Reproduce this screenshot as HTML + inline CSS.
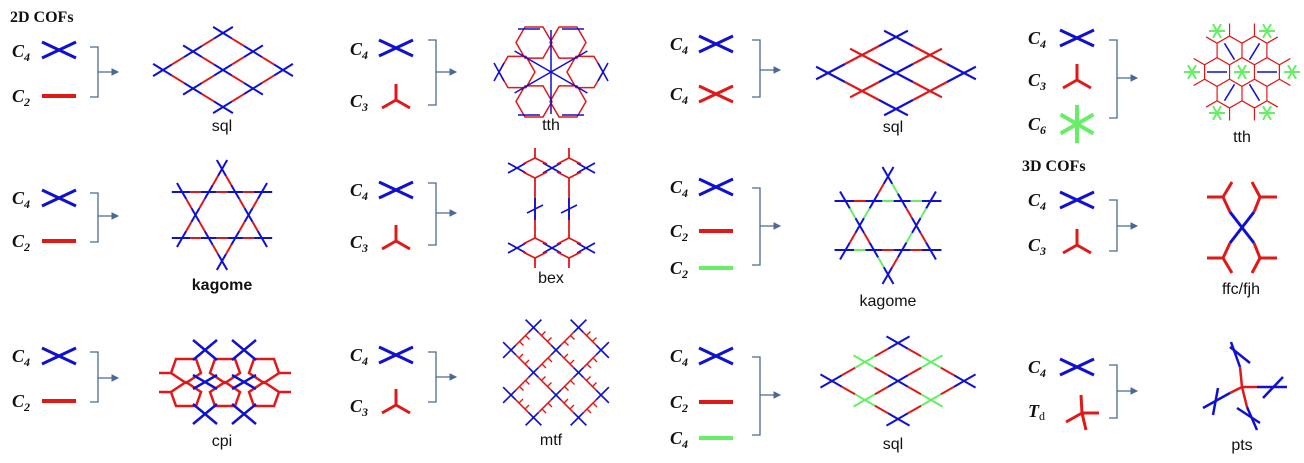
<!DOCTYPE html>
<html><head><meta charset="utf-8"><style>
html,body{margin:0;padding:0;background:#fff;}
svg{display:block;}
.lb{font-family:"Liberation Serif",serif;font-style:italic;font-weight:bold;font-size:18px;fill:#111;}
.sb{font-size:12px;}
.nm{font-family:"Liberation Sans",sans-serif;font-size:16px;fill:#111;text-anchor:middle;}
.hd{font-family:"Liberation Serif",serif;font-weight:bold;font-size:16px;fill:#111;}
</style></head><body>
<svg id="s" width="1304" height="463" viewBox="0 0 1304 463" xmlns="http://www.w3.org/2000/svg">
<rect width="1304" height="463" fill="#fff"/>
<text class="hd" x="10" y="22">2D COFs</text>
<text class="hd" x="1022" y="171">3D COFs</text>

<text class="lb" x="12" y="57">C<tspan class="sb" dy="4">4</tspan></text>
<text class="lb" x="12" y="102">C<tspan class="sb" dy="4">2</tspan></text>
<text class="lb" x="12" y="204">C<tspan class="sb" dy="4">4</tspan></text>
<text class="lb" x="12" y="247">C<tspan class="sb" dy="4">2</tspan></text>
<text class="lb" x="12" y="362">C<tspan class="sb" dy="4">4</tspan></text>
<text class="lb" x="12" y="407">C<tspan class="sb" dy="4">2</tspan></text>

<text class="lb" x="350" y="55">C<tspan class="sb" dy="4">4</tspan></text>
<text class="lb" x="350" y="107">C<tspan class="sb" dy="4">3</tspan></text>
<text class="lb" x="350" y="196">C<tspan class="sb" dy="4">4</tspan></text>
<text class="lb" x="350" y="248">C<tspan class="sb" dy="4">3</tspan></text>
<text class="lb" x="350" y="361">C<tspan class="sb" dy="4">4</tspan></text>
<text class="lb" x="350" y="412">C<tspan class="sb" dy="4">3</tspan></text>

<text class="lb" x="670" y="50">C<tspan class="sb" dy="4">4</tspan></text>
<text class="lb" x="670" y="100">C<tspan class="sb" dy="4">4</tspan></text>
<text class="lb" x="670" y="193">C<tspan class="sb" dy="4">4</tspan></text>
<text class="lb" x="670" y="237">C<tspan class="sb" dy="4">2</tspan></text>
<text class="lb" x="670" y="274">C<tspan class="sb" dy="4">2</tspan></text>
<text class="lb" x="670" y="362">C<tspan class="sb" dy="4">4</tspan></text>
<text class="lb" x="670" y="408">C<tspan class="sb" dy="4">2</tspan></text>
<text class="lb" x="670" y="444">C<tspan class="sb" dy="4">4</tspan></text>

<text class="lb" x="1028" y="44">C<tspan class="sb" dy="4">4</tspan></text>
<text class="lb" x="1028" y="86">C<tspan class="sb" dy="4">3</tspan></text>
<text class="lb" x="1028" y="130">C<tspan class="sb" dy="4">6</tspan></text>
<text class="lb" x="1028" y="206">C<tspan class="sb" dy="4">4</tspan></text>
<text class="lb" x="1028" y="251">C<tspan class="sb" dy="4">3</tspan></text>
<text class="lb" x="1028" y="373">C<tspan class="sb" dy="4">4</tspan></text>
<text class="lb" x="1028" y="417">T<tspan class="sb" dy="3" font-style="normal" font-weight="normal">d</tspan></text>

<text class="nm" x="222" y="131">sql</text>
<text class="nm" x="551" y="130">tth</text>
<text class="nm" x="893" y="132">sql</text>
<text class="nm" x="1242" y="142">tth</text>
<text class="nm" x="222" y="290" font-weight="bold">kagome</text>
<text class="nm" x="551" y="283">bex</text>
<text class="nm" x="888" y="306">kagome</text>
<text class="nm" x="1241" y="294">ffc/fjh</text>
<text class="nm" x="222" y="446">cpi</text>
<text class="nm" x="551" y="445">mtf</text>
<text class="nm" x="893" y="449">sql</text>
<text class="nm" x="1242" y="450">pts</text>
<g id="g"></g>
</svg>
<script>
var B="#1010d0",R="#e01818",G="#66ee66",BR="#4a6a95";
var g=document.getElementById("g"),NS="http://www.w3.org/2000/svg";
function L(x1,y1,x2,y2,c,w){var e=document.createElementNS(NS,"line");e.setAttribute("x1",x1);e.setAttribute("y1",y1);e.setAttribute("x2",x2);e.setAttribute("y2",y2);e.setAttribute("stroke",c);e.setAttribute("stroke-width",w||2);g.appendChild(e);}
function P(pts,c,w,close){var e=document.createElementNS(NS,close?"polygon":"polyline");e.setAttribute("points",pts.map(function(p){return p[0]+","+p[1]}).join(" "));e.setAttribute("fill","none");e.setAttribute("stroke",c);e.setAttribute("stroke-width",w||2);g.appendChild(e);}
function seg(p,q,t0,t1,c,w){L(p[0]+(q[0]-p[0])*t0,p[1]+(q[1]-p[1])*t0,p[0]+(q[0]-p[0])*t1,p[1]+(q[1]-p[1])*t1,c,w);}
function bond(p,q,cp,cq,mid,w,f){f=f||0.3;if(mid){seg(p,q,0,f,cp,w);seg(p,q,f,1-f,mid,w);seg(p,q,1-f,1,cq,w);}else{seg(p,q,0,0.5,cp,w);seg(p,q,0.5,1,cq,w);}}
function X(cx,cy,c){L(cx-17,cy-8,cx+17,cy+8,c,3);L(cx-17,cy+8,cx+17,cy-8,c,3);}
function bar(cx,cy,c){L(cx-17,cy,cx+17,cy,c,4);}
function Y(cx,cy){L(cx,cy,cx,cy-16,R,3);L(cx,cy,cx-14,cy+8,R,3);L(cx,cy,cx+14,cy+8,R,3);}
function br(x,y1,y2,ay){var e=document.createElementNS(NS,"path");e.setAttribute("d","M"+x+" "+y1+"H"+(x+8)+"V"+y2+"H"+x);e.setAttribute("fill","none");e.setAttribute("stroke",BR);e.setAttribute("stroke-width",1.3);g.appendChild(e);L(x+8,ay,x+26,ay,BR,1.3);P([[x+22,ay-3],[x+28,ay],[x+22,ay+3]],BR,1,true);g.lastChild.setAttribute("fill",BR);}
X(59,50,B);bar(59,96,R);br(90,47,97,72);
X(59,198,B);bar(59,241,R);br(90,193,242,216);
X(59,356,B);bar(59,401,R);br(90,352,402,378);
X(396,48,B);Y(396,100);br(428,40,105,72);
X(396,190,B);Y(396,241);br(428,183,245,213);
X(396,355,B);Y(396,405);br(428,352,402,377);
X(716,44,B);X(716,94,R);br(752,40,97,70);
X(716,187,B);bar(716,231,R);bar(716,268,G);br(752,188,265,226);
X(716,356,B);bar(716,402,R);bar(716,438,G);br(752,357,435,395);
X(1077,38,B);Y(1077,80);
(function(){for(var k=0;k<3;k++){var a=Math.PI/2+k*Math.PI/3;L(1077+19*Math.cos(a),124+19*Math.sin(a),1077-19*Math.cos(a),124-19*Math.sin(a),G,4);}})();
br(1109,40,118,78);
X(1077,200,B);Y(1077,245);br(1109,200,251,226);
X(1077,367,B);
L(1082,413,1081,395,R,3);L(1082,413,1099,413,R,3);L(1082,413,1066,422,R,3);L(1082,413,1086,430,R,3);
br(1109,365,418,391);
function lattice(C,a,b,nodes,col,mid,ext,w,f){
 var has={};nodes.forEach(function(n){has[n[0]+","+n[1]]=1;});
 function pos(i,j){return [C[0]+i*a[0]+j*b[0],C[1]+i*a[1]+j*b[1]];}
 nodes.forEach(function(n){var i=n[0],j=n[1],p=pos(i,j),c=col(i,j);
  [[1,0],[-1,0],[0,1],[0,-1]].forEach(function(d){var ni=i+d[0],nj=j+d[1];
   if(has[ni+","+nj]){ if(d[0]+d[1]>0) bond(p,pos(ni,nj),c,col(ni,nj),mid,w,f);}
   else{var q=pos(i+d[0]*ext,j+d[1]*ext);L(p[0],p[1],q[0],q[1],c,w);}
  });
 });
}
var g3=[];for(var i=-1;i<=1;i++)for(var j=-1;j<=1;j++)g3.push([i,j]);
lattice([223,70],[30,-18.5],[30,18.5],g3,function(){return B},R,0.33,2);
lattice([896,73],[34,-18],[34,18],g3,function(i,j){return (i+j)%2==0?B:R},null,0.35,2.2);
lattice([898,381],[33,-19],[33,19],g3,function(i,j){return Math.abs(i+j)%2==0?B:G},R,0.35,2);
(function(){var nodes=[];var ds=[[-1,-1],[1,-1],[-2,0],[0,0],[2,0],[-1,1],[1,1],[-2,2],[0,2],[2,2],[-1,3],[1,3]];
 ds.forEach(function(d){nodes.push([(d[0]+d[1])/2,(d[1]-d[0])/2]);});
 lattice([556,350],[22.5,22.5],[-22.5,22.5],nodes,function(){return B},R,0.35,1.6,0.22);
 ds.forEach(function(d){var x=556+d[0]*22.5,y=350+d[1]*22.5;
  [[1,1],[-1,1]].forEach(function(v){if(d[1]<3&&Math.abs(d[0]+v[0])<=2){[8,14].forEach(function(t){var mx=x+v[0]*t,my=y+v[1]*t;L(mx,my,mx+v[1]*4,my-v[0]*4,R,1.3);});}});});
})();
function kag(cx,c,r,mids,w){var h=Math.sqrt(3)*r;
 var up=[[cx,c-2*r],[cx+h,c+r],[cx-h,c+r]],dn=[[cx,c+2*r],[cx-h,c-r],[cx+h,c-r]];
 var lines=[[up[0],up[1]],[up[1],up[2]],[up[2],up[0]],[dn[0],dn[1]],[dn[1],dn[2]],[dn[2],dn[0]]];
 lines.forEach(function(l,k){var A=l[0],Bp=l[1];
  seg(A,Bp,-0.13,0,B,w);seg(A,Bp,1,1.13,B,w);
  for(var s=0;s<3;s++){var m=mids[(k+s)%mids.length];seg(A,Bp,s/3,s/3+0.1,B,w);seg(A,Bp,s/3+0.1,s/3+0.233,m,w);seg(A,Bp,s/3+0.233,(s+1)/3,B,w);}
 });}
kag(222,215,23,[R],2);
kag(888,225.5,24.5,[G,R,R,G,R,G],2);
(function(){var C=[551,72];
 for(var k=0;k<6;k++){var a=k*Math.PI/3,cx=C[0]+34*Math.cos(a),cy=C[1]+34*Math.sin(a),pts=[];
  for(var m=0;m<6;m++){var b=m*Math.PI/3;pts.push([cx+18*Math.cos(b),cy+18*Math.sin(b)]);}
  P(pts,R,1.5,true);
 }
 for(var k=0;k<3;k++){var a=Math.PI/6+k*Math.PI/3;L(C[0]-42*Math.cos(a),C[1]-42*Math.sin(a),C[0]+42*Math.cos(a),C[1]+42*Math.sin(a),B,1.5);}
 [[499,72],[603,72]].forEach(function(p){L(p[0]-5,p[1]-9,p[0]+5,p[1]+9,B,1.6);L(p[0]-5,p[1]+9,p[0]+5,p[1]-9,B,1.6);});
 L(518,29,540,29,B,1.5);L(562,29,584,29,B,1.5);L(518,115,540,115,B,1.5);L(562,115,584,115,B,1.5);
})();
(function(){var C=[1242,72],s=14.4,w=s*Math.sqrt(3);
 var defs=document.createElementNS(NS,"clipPath");defs.setAttribute("id","hc");var pg=document.createElementNS(NS,"polygon");var pp=[];
 for(var m=0;m<6;m++){var b=m*Math.PI/3;pp.push((C[0]+56*Math.cos(b))+","+(C[1]+56*Math.sin(b)));}
 pg.setAttribute("points",pp.join(" "));defs.appendChild(pg);document.getElementById("s").appendChild(defs);
 var gg=document.createElementNS(NS,"g");gg.setAttribute("clip-path","url(#hc)");var old=g;g.appendChild(gg);g=gg;
 for(var r=-4;r<=4;r++)for(var q=-5;q<=5;q++){var cx=C[0]+w*(q+r/2),cy=C[1]+1.5*s*r;if(Math.abs(cx-C[0])>75||Math.abs(cy-C[1])>70)continue;var pts=[];
  for(var m=0;m<6;m++){var b=Math.PI/6+m*Math.PI/3;pts.push([cx+s*Math.cos(b),cy+s*Math.sin(b)]);}P(pts,R,1.1,true);}
 g=old;
 var gn=[[1217,31],[1267,31],[1192,72],[1242,72],[1292,72],[1217,113],[1267,113]];
 [[0,3],[1,3],[2,3],[4,3],[5,3],[6,3]].forEach(function(e){seg(gn[e[0]],gn[e[1]],0.3,0.7,B,1.5);});
 gn.forEach(function(p){for(var k=0;k<3;k++){var a=k*Math.PI/3;L(p[0]-8*Math.cos(a),p[1]-8*Math.sin(a),p[0]+8*Math.cos(a),p[1]+8*Math.sin(a),G,2);}});
})();
(function(){[[168,0],[248,1]].forEach(function(r){var y=r[0],f=r[1]?-1:1;
 [517,552,586].forEach(function(x){L(x-9,y-5,x+9,y+5,B,1.8);L(x-9,y+5,x+9,y-5,B,1.8);});
 [535,569].forEach(function(x){L(x,y-10*f,x-12,y-4*f,R,1.8);L(x,y-10*f,x+12,y-4*f,R,1.8);
  L(x,y+10*f,x-12,y+4*f,R,1.8);L(x,y+10*f,x+12,y+4*f,R,1.8);});});
 L(535,178,535,238,R,1.8);L(569,178,569,238,R,1.8);L(535,198,535,220,B,1.8);L(569,198,569,220,B,1.8);
 L(527,213,543,205,B,1.6);L(561,213,577,205,B,1.6);
 L(535,148,535,158,R,1.8);L(569,148,569,158,R,1.8);L(535,258,535,268,R,1.8);L(569,258,569,268,R,1.8);
})();
(function(){var w=2.5;
 [186,225,264].forEach(function(cx){P([[cx-15,373],[cx-10,359],[cx+10,359],[cx+15,373],[cx,383]],R,w,true);P([[cx-15,392],[cx-10,406],[cx+10,406],[cx+15,392],[cx,382]],R,w,true);});
 L(159,373,171,373,R,w);L(159,392,171,392,R,w);L(279,373,291,373,R,w);L(279,392,291,392,R,w);
 [[205,350],[244,350],[205,414],[244,414]].forEach(function(p){L(p[0]-12,p[1]-10,p[0]+12,p[1]+10,B,w);L(p[0]-12,p[1]+10,p[0]+12,p[1]-10,B,w);});
 [[205,382],[244,382]].forEach(function(p){L(p[0]-12,p[1]-7,p[0]+12,p[1]+7,B,w);L(p[0]-12,p[1]+7,p[0]+12,p[1]-7,B,w);});
})();
(function(){var w=3;L(1230,212,1254,243,B,w);L(1254,212,1230,243,B,w);
 L(1230,212,1223,197,R,w);L(1254,212,1260,197,R,w);L(1230,243,1223,258,R,w);L(1254,243,1260,258,R,w);
 L(1223,197,1207,197,R,w);L(1223,197,1232,182,R,w);L(1260,197,1277,197,R,w);L(1260,197,1252,182,R,w);
 L(1223,258,1207,258,R,w);L(1223,258,1232,273,R,w);L(1260,258,1277,258,R,w);L(1260,258,1252,273,R,w);
})();
(function(){var w=2.5;L(1242,387,1240,367,R,w);L(1242,387,1257,387,R,w);L(1242,387,1247,407,R,w);L(1242,387,1230,393,R,w);
 L(1240,367,1231,342,B,w);L(1230,347,1250,363,B,w);
 L(1257,387,1287,387,B,w);L(1263,398,1283,377,B,w);
 L(1247,407,1257,430,B,w);L(1237,408,1260,423,B,w);
 L(1230,393,1203,408,B,w);L(1218,388,1213,415,B,w);
})();
</script>
</body></html>
